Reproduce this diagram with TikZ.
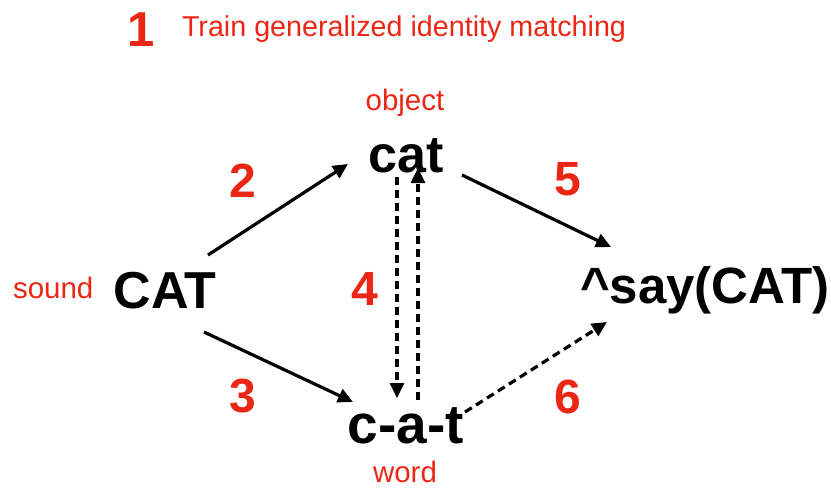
\documentclass[tikz,border=0pt]{standalone}
\usepackage{fontspec}
\setmainfont{Liberation Sans}
\usetikzlibrary{arrows.meta}
\definecolor{kred}{RGB}{236,38,20}
\begin{document}
\begin{tikzpicture}[x=1pt,y=-1pt,
  every node/.style={inner sep=0pt,outer sep=0pt},
  num/.style={text=kred,font=\fontsize{48}{50}\selectfont\bfseries,anchor=base},
  lbl/.style={text=kred,font=\fontsize{29.5}{32}\selectfont,anchor=base},
  big/.style={text=black,font=\fontsize{52}{56}\selectfont\bfseries,anchor=base},
  arr/.style={line width=3.2pt,-{Triangle[length=15pt,width=14pt]}},
  darr/.style={arr,dash pattern=on 8pt off 5pt}]
\useasboundingbox (0,0) rectangle (831,488);
% title
\node[num,font=\fontsize{49}{52}\selectfont\bfseries] (n1) at (141,46) {1};
\node[lbl,anchor=base west,font=\fontsize{28.7}{30}\selectfont] (title) at (182,36) {Train generalized identity matching};
% labels
\node[lbl] (object) at (405,110) {object};
\node[lbl,anchor=base west] (sound) at (13,298) {sound};
\node[lbl] (word) at (405,482) {word};
% main words
\node[big] (cat) at (406,172) {cat};
\node[big] (CAT) at (165,308) {CAT};
\node[big,font=\fontsize{55}{58}\selectfont\bfseries] (cat2) at (406,443) {c-a-t};
\node[big,font=\fontsize{51}{56}\selectfont\bfseries] (say) at (705,303) {\^{}say(CAT)};
% numbers
\node[num] (n2) at (243,197) {2};
\node[num] (n3) at (243,412) {3};
\node[num] (n4) at (365,305) {4};
\node[num] (n5) at (568,195) {5};
\node[num] (n6) at (568,413) {6};
% arrows
\draw[arr] ([xshift=43pt,yshift=53pt]CAT.base) -- ([xshift=-58pt,yshift=8pt]cat.base);
\draw[arr] ([xshift=39pt,yshift=-24pt]CAT.base) -- ([xshift=-53pt,yshift=41pt]cat2.base);
\draw[arr] ([xshift=56pt,yshift=-3pt]cat.base) -- ([xshift=-94pt,yshift=56pt]say.base);
\draw[darr] ([xshift=59pt,yshift=31pt]cat2.base) -- ([xshift=-98pt,yshift=-19pt]say.base);
\draw[darr] ([xshift=-9pt,yshift=-5pt]cat.base) -- ([xshift=-9pt,yshift=45pt]cat2.base);
\draw[darr] ([xshift=12pt,yshift=43pt]cat2.base) -- ([xshift=12pt,yshift=4pt]cat.base);
\end{tikzpicture}
\end{document}
